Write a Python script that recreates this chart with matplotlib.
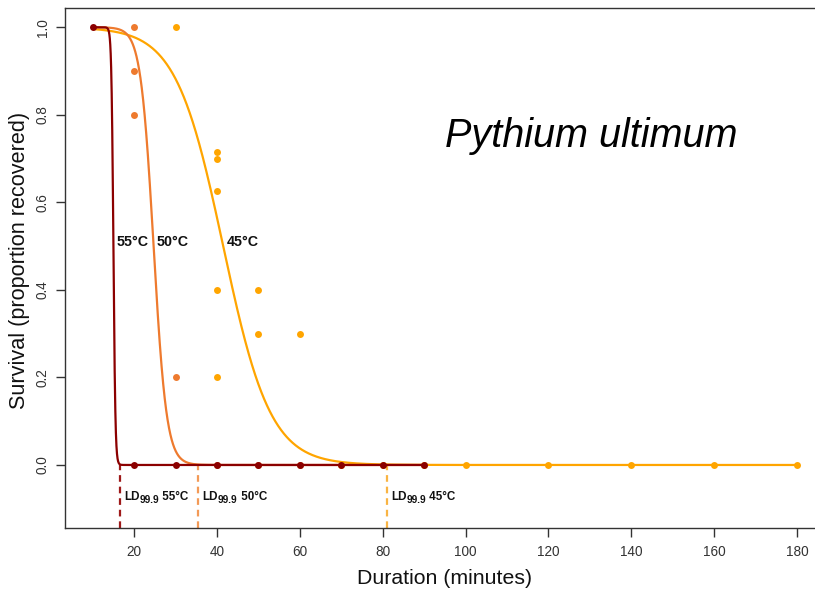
import numpy as np
import matplotlib
matplotlib.use("Agg")
import matplotlib.pyplot as plt
from matplotlib.transforms import offset_copy

plt.rcParams["font.family"] = ["Liberation Sans", "DejaVu Sans"]

# Observed survival (proportion recovered) by exposure duration
dur_45 = [30, 40, 40, 40, 40, 40, 50, 50, 60, 70, 80, 90, 100, 120, 140, 160, 180]
surv_45 = [1.0, 0.714, 0.7, 0.625, 0.4, 0.2, 0.4, 0.3, 0.3, 0, 0, 0, 0, 0, 0, 0, 0]
dur_50 = [20, 20, 20, 30, 40, 50, 60]
surv_50 = [1.0, 0.9, 0.8, 0.2, 0, 0, 0]
dur_55 = [10, 20, 30, 40, 50, 60, 70, 80, 90]
surv_55 = [1.0, 0, 0, 0, 0, 0, 0, 0, 0]

# Fitted logistic survival models: S(t) = 1 / (1 + exp(slope * (t - t50)))
temps = ["45°C", "50°C", "55°C"]
t50 = [41.5, 24.7, 15.0]
slope = [0.175, 0.64, 4.2]
t_range = [(10, 180), (10, 90), (10, 90)]

colors = ["#FFA500", "#EE7A2E", "#8B0000"]
dash_colors = ["#F9B443", "#F39A57", "#9E1A1A"]

durations = [dur_45, dur_50, dur_55]
survivals = [surv_45, surv_50, surv_55]


def survival(t, m, b):
    return 1.0 / (1.0 + np.exp(b * (t - m)))


def ld999(m, b):
    return m + np.log(999.0) / b


fig = plt.figure(figsize=(8.15, 5.94), dpi=100)
ax = fig.add_axes([64.5 / 815, 66 / 594, (825.3 - 64.5) / 815, 520 / 594])

for i in range(3):
    t = np.linspace(t_range[i][0], t_range[i][1], 3000)
    ax.plot(t, survival(t, t50[i], slope[i]), color=colors[i], lw=1.6,
            zorder=2 + i, solid_capstyle="round")
    ax.plot(durations[i], survivals[i], "o", color=colors[i], ms=5,
            mew=0, zorder=2.5 + i)

ymin, ymax = -0.144, 1.044
ax.set_xlim(3.2, 186.8)
ax.set_ylim(ymin, ymax)

renderer = fig.canvas.get_renderer()


def ld_label(x, y, temp):
    """LD99.9 label with a lowered, slightly smaller subscript."""
    style = dict(fontweight="bold", va="baseline", ha="left", color="#111111")
    t1 = ax.text(x, y, "LD", fontsize=8.4, **style)
    w1 = t1.get_window_extent(renderer).width
    t2 = ax.text(x, y, "99.9", fontsize=7.3,
                 transform=offset_copy(ax.transData, fig=fig, x=w1, y=-2.6,
                                       units="dots"), **style)
    w2 = t2.get_window_extent(renderer).width
    ax.text(x, y, " " + temp, fontsize=8.4,
            transform=offset_copy(ax.transData, fig=fig, x=w1 + w2, y=0,
                                  units="dots"), **style)


for i in range(3):
    ld = ld999(t50[i], slope[i])
    ax.plot([ld, ld], [ymin, 0], color=dash_colors[i], lw=1.6,
            dashes=(3, 2.2), zorder=1.5)
    ld_label(ld + 1.0, -0.081, temps[i])

# Curve labels
label_x = [42.3, 25.5, 15.7]
for i in range(3):
    ax.text(label_x[i], 0.509, temps[i], fontsize=10.3, fontweight="bold",
            va="center", ha="left", color="#111111", zorder=10)

fig.text(445 / 815, 1 - 146.7 / 594, "Pythium ultimum", fontsize=28.5,
         style="italic", color="black", va="baseline", ha="left")

ax.set_xticks([20, 40, 60, 80, 100, 120, 140, 160, 180])
ax.set_yticks([0.0, 0.2, 0.4, 0.6, 0.8, 1.0])
ax.set_yticklabels(["0.0", "0.2", "0.4", "0.6", "0.8", "1.0"],
                   rotation=90, va="center")
ax.tick_params(axis="both", direction="out", length=6.5, width=1.0,
               colors="#333333", labelsize=9.8, pad=4)
ax.tick_params(axis="x", pad=6)
for s in ax.spines.values():
    s.set_color("#333333")
    s.set_linewidth(1.0)

ax.set_xlabel("Duration (minutes)", fontsize=15.3, color="#111111", labelpad=7)
ax.set_ylabel("Survival (proportion recovered)", fontsize=15.6,
              color="#111111")
ax.yaxis.set_label_coords(-0.045, 0.515)

fig.savefig("out.png", dpi=100)
